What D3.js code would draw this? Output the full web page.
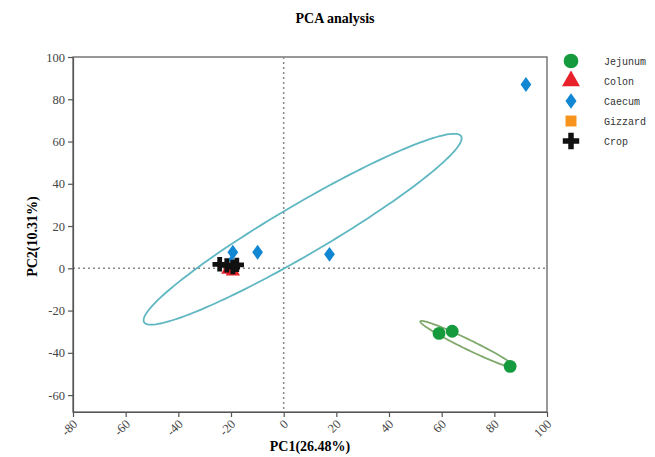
<!DOCTYPE html>
<html>
<head>
<meta charset="utf-8">
<script src="https://cdn.jsdelivr.net/npm/d3@7"></script>
<style>
  body { margin: 0; background: #fff; }
  svg { display: block; }
</style>
</head>
<body>
<svg width="655" height="457"></svg>
<script>
// groups in legend order
const groups = ['Jejunum', 'Colon', 'Caecum', 'Gizzard', 'Crop']
const colors = ['#159a3e', '#e8212b', '#1186d2', '#f7941d', '#111111']

// sample scores: [PC1, PC2]
const jejunum = [[59, -30.8], [64, -29.8], [86, -46.4]]
const colon = [[-19.3, -1.4], [-21, -0.6]]
const caecum = [[92, 87], [17.4, 6.6], [-9.9, 7.6], [-19.3, 7.6], [-20, 2.5]]
const gizzard = [[-21, 0.5], [-19.5, 0.8]]
const crop = [[-24.3, 1.9], [-21.6, 1.4], [-19.3, 0.6], [-17.8, 1.6]]

// confidence ellipses: centre and two conjugate semi-axes (data units)
const ellipses = [
  {group: 'Caecum', c: [7.2, 18.5], a: [60.2, 44.0], b: [4.8, -10.2], color: '#5fb7c2'},
  {group: 'Jejunum', c: [69.9, -36.0], a: [18.0, -10.9], b: [-0.8, -2.1], color: '#7fa86c'}
]

const xTicks = [-80, -60, -40, -20, 0, 20, 40, 60, 80, 100]
const yTicks = [-60, -40, -20, 0, 20, 40, 60, 80, 100]

const margin = {left: 73, right: 108, top: 57, bottom: 45}
const WIDTH = 655, HEIGHT = 457

const svg = d3.select('svg')

const x = d3.scaleLinear().domain([-80, 100]).range([margin.left, WIDTH - margin.right])
const y = d3.scaleLinear().domain([-68, 100]).range([HEIGHT - margin.bottom, margin.top])

// wider diamond than d3's built-in one
const fatDiamond = {
  draw(context, size) {
    const h = Math.sqrt(size / 1.44)
    const w = h * 0.72
    context.moveTo(0, -h)
    context.lineTo(w, 0)
    context.lineTo(0, h)
    context.lineTo(-w, 0)
    context.closePath()
  }
}

const symbols = {
  Jejunum: d3.symbolCircle,
  Colon: d3.symbolTriangle,
  Caecum: fatDiamond,
  Gizzard: d3.symbolSquare,
  Crop: d3.symbolCross
}
const sizes = {Jejunum: 130, Colon: 90, Caecum: 80, Gizzard: 80, Crop: 115}
const legendSizes = {Jejunum: 170, Colon: 140, Caecum: 85, Gizzard: 120, Crop: 150}

// title
svg.append('text')
  .attr('x', 335).attr('y', 23)
  .attr('text-anchor', 'middle')
  .style('font-family', 'Liberation Serif, serif')
  .style('font-weight', 'bold')
  .style('font-size', '14px')
  .text('PCA analysis')

// frame
svg.append('rect')
  .attr('x', x(-80)).attr('y', y(100))
  .attr('width', x(100) - x(-80)).attr('height', y(-68) - y(100))
  .attr('fill', 'none').attr('stroke', '#555').attr('stroke-width', 1.2)

// zero lines
svg.append('line')
  .attr('x1', x(0)).attr('x2', x(0)).attr('y1', y(100)).attr('y2', y(-68))
  .attr('stroke', '#888').attr('stroke-width', 1.5).attr('stroke-dasharray', '2,3')
svg.append('line')
  .attr('x1', x(-80)).attr('x2', x(100)).attr('y1', y(0)).attr('y2', y(0))
  .attr('stroke', '#888').attr('stroke-width', 1.5).attr('stroke-dasharray', '2,3')

// axes
const fmt = d => String(d)
const xAxis = svg.append('g')
  .attr('transform', `translate(0,${y(-68)})`)
  .call(d3.axisBottom(x).tickValues(xTicks).tickFormat(fmt).tickSize(5).tickSizeOuter(0))
xAxis.selectAll('text')
  .attr('transform', 'translate(-4,4) rotate(-45)')
  .style('text-anchor', 'end')
  .attr('dy', '0.35em')

const yAxis = svg.append('g')
  .attr('transform', `translate(${x(-80)},0)`)
  .call(d3.axisLeft(y).tickValues(yTicks).tickFormat(fmt).tickSize(5).tickSizeOuter(0))

svg.selectAll('.tick text')
  .style('font-family', 'Liberation Serif, serif')
  .style('font-size', '12.5px')
  .attr('fill', '#444')
svg.selectAll('.domain, .tick line').attr('stroke', '#555').attr('stroke-width', 1.2)

// axis labels
svg.append('text')
  .attr('x', 310).attr('y', 451)
  .attr('text-anchor', 'middle')
  .style('font-family', 'Liberation Serif, serif')
  .style('font-weight', 'bold')
  .style('font-size', '14px')
  .text('PC1(26.48%)')
svg.append('text')
  .attr('transform', `translate(37,${y(15)}) rotate(-90)`)
  .attr('text-anchor', 'middle')
  .style('font-family', 'Liberation Serif, serif')
  .style('font-weight', 'bold')
  .style('font-size', '14px')
  .text('PC2(10.31%)')

// ellipses
const ellipseLine = d3.line().x(d => x(d[0])).y(d => y(d[1])).curve(d3.curveLinearClosed)
ellipses.forEach(e => {
  const pts = d3.range(0, 360, 2).map(deg => {
    const t = deg * Math.PI / 180
    return [e.c[0] + Math.cos(t) * e.a[0] + Math.sin(t) * e.b[0],
            e.c[1] + Math.cos(t) * e.a[1] + Math.sin(t) * e.b[1]]
  })
  svg.append('path')
    .attr('d', ellipseLine(pts))
    .attr('fill', 'none')
    .attr('stroke', e.color)
    .attr('stroke-width', 1.8)
})

// points
const series = [caecum, jejunum, gizzard, colon, crop]
const seriesNames = ['Caecum', 'Jejunum', 'Gizzard', 'Colon', 'Crop']
series.forEach((data, i) => {
  const name = seriesNames[i]
  const color = colors[groups.indexOf(name)]
  svg.append('g').selectAll('path')
    .data(data)
    .enter()
    .append('path')
    .attr('d', d3.symbol().type(symbols[name]).size(sizes[name]))
    .attr('transform', d => `translate(${x(d[0])},${y(d[1])})`)
    .attr('fill', color)
})

// legend
const legend = svg.append('g')
  .selectAll('g')
  .data(groups)
  .enter()
  .append('g')
  .attr('transform', (d, i) => `translate(571,${61 + i * 20})`)

legend.append('path')
  .attr('d', d => d3.symbol().type(symbols[d]).size(legendSizes[d])())
  .attr('fill', (d, i) => colors[i])

legend.append('text')
  .attr('x', 33).attr('y', 0).attr('dy', '0.35em')
  .style('font-family', 'Liberation Mono, monospace')
  .style('font-size', '10px')
  .attr('fill', '#333')
  .text(d => d)
</script>
</body>
</html>
